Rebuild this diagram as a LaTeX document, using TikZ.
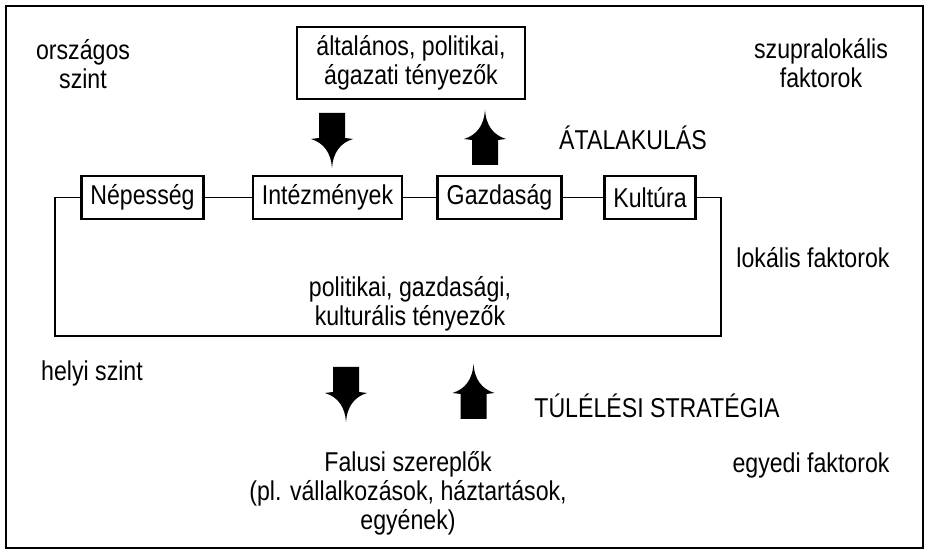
\documentclass[tikz,border=0pt]{standalone}
\usepackage{fontspec}
\setmainfont{Liberation Sans}[FakeStretch=0.85]
\usepackage{tikz}
\tikzset{
    doboz/.style={
        rectangle,
        draw, line width=1.5pt,
        inner xsep=0.18cm,
        minimum height=0.86cm,
        text centered
    },
    felirat/.style={align=center},
    line/.style={draw, line width=1.1pt},
    pics/nyil/.style={code={
        \fill (-13,0) -- (13,0) -- (13,25) -- (21,26)
            .. controls (8,30) and (1,40) .. (0,55)
            .. controls (-1,40) and (-8,30) .. (-21,26)
            -- (-13,25) -- cycle;
    }},
    font={\fontsize{15.5pt}{16.5pt}\selectfont},
}
\begin{document}
\begin{tikzpicture}[x=0.02cm, y=-0.02cm]
\useasboundingbox (0,0) rectangle (930,550);
\draw[line width=1.5pt] (6,6) rectangle (923,548);
\node(TOP) at (411,63)[doboz, align=center, minimum width=4.56cm, minimum height=1.44cm]{általános, politikai,\\ágazati tényezők};
\node(orsz) at (83,64)[felirat]{országos\\szint};
\node(szupra) at (821,63)[felirat]{szupralokális\\faktorok};
\node(atal) at (633,138){ÁTALAKULÁS};
\node(nep) at (142.5,197.5)[doboz]{Népesség};
\node(int) at (327.5,197.5)[doboz]{Intézmények};
\node(gazd) at (499.5,197.5)[doboz]{Gazdaság};
\node(kult) at (650,197.5)[doboz]{Kultúra};
\node(lok) at (813,258){lokális faktorok};
\node(pgk) at (410,304)[felirat]{politikai, gazdasági,\\kulturális tényezők};
\node(helyi) at (92,373){helyi szint};
\node(tul) at (657,406){TÚLÉLÉSI STRATÉGIA};
\node(falusi) at (408,493)[felirat]{Falusi szereplők\\(pl. vállalkozások, háztartások,\\egyének)};
\node(egyedi) at (811,465){egyedi faktorok};
\coordinate(balalso) at (55,336);
\coordinate(jobbalso) at (721,336);
\draw[line] (nep.west) -| (balalso) -- (jobbalso) |- (kult.east);
\draw[line] (nep) -- (int) (int) -- (gazd) (gazd) -- (kult);
\pic at (332,113) {nyil};
\pic[yscale=-1] at (485,165) {nyil};
\pic at (346,367) {nyil};
\pic[yscale=-1] at (473.5,419) {nyil};
\end{tikzpicture}
\end{document}
